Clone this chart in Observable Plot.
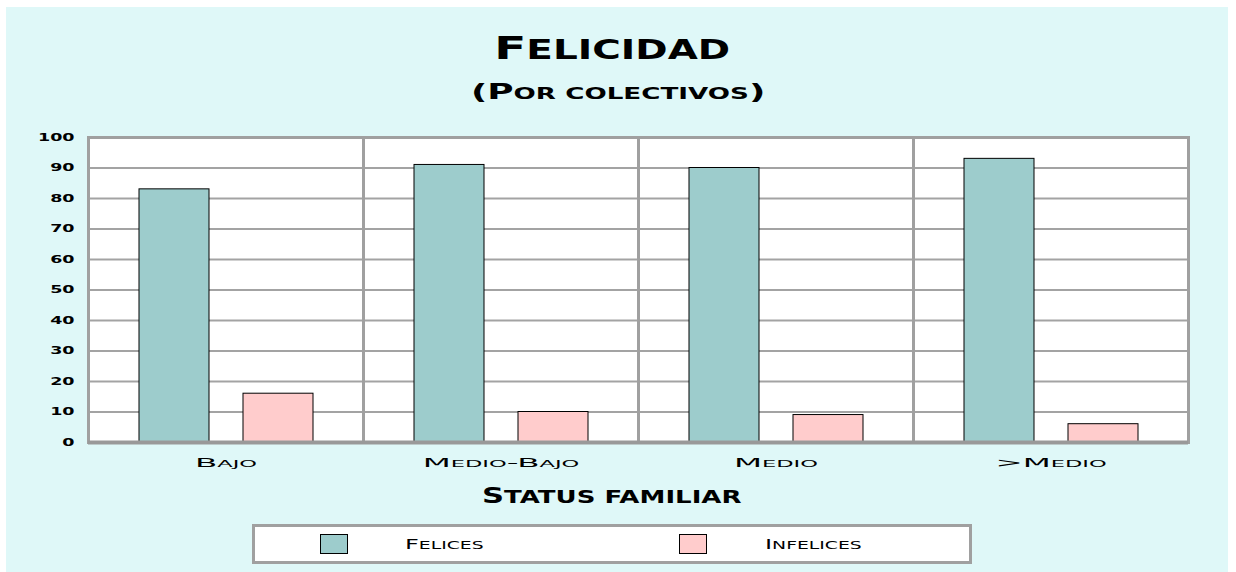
<!DOCTYPE html>
<html>
<head>
<meta charset="utf-8">
<script src="https://cdn.jsdelivr.net/npm/d3@7"></script>
<script src="https://cdn.jsdelivr.net/npm/@observablehq/plot@0.6"></script>
<style>
  html, body { margin: 0; padding: 0; background: #ffffff; }
  #page { position: relative; width: 1236px; height: 572px; overflow: hidden; background: #ffffff; }
  #bg { position: absolute; left: 6px; top: 7px; width: 1222px; height: 565px; background: #dff8f8; }
  .hold { position: absolute; left: 0; width: 1236px; text-align: center; }
  .sc { font-family: "DejaVu Sans", sans-serif; color: #000; display: inline-block; white-space: nowrap; line-height: normal; }
  #title { font-size: 31.5px; font-weight: bold; }
  #subtitle { font-size: 20.5px; font-weight: bold; }
  #xlabel { font-size: 21.4px; font-weight: bold; }
  #chart { position: absolute; left: 0; top: 120px; }
  #legend { position: absolute; left: 252px; top: 524px; width: 714px; height: 34px; background: #fff; border: 3px solid #a0a0a0; }
  .sw { position: absolute; width: 26px; height: 18px; border: 1px solid #000; top: 7px; }
  .lt { position: absolute; top: 9px; font-size: 14px; transform-origin: 0 50%; }
  svg [aria-label^="y-axis"] text { font-weight: bold; font-size: 10px; font-variant: normal; }
  svg [aria-label^="fx-axis"] text { font-size: 13px; }
</style>
</head>
<body>
<div id="page">
  <div id="bg"></div>
  <div class="hold" style="top:30px;left:-6px;"><div id="title" class="sc" data-text="Felicidad" data-small="0.83" data-stretch="1.49"></div></div>
  <div class="hold" style="top:80px;"><div id="subtitle" class="sc" data-text="(Por colectivos)" data-small="0.73" data-stretch="1.75"></div></div>
  <div id="chart"></div>
  <div class="hold" style="top:483px;left:-6px;"><div id="xlabel" class="sc" data-text="Status familiar" data-small="0.85" data-stretch="1.43"></div></div>
  <div id="legend"></div>
</div>
<script>
const categories = ["Bajo", "Medio-Bajo", "Medio", ">Medio"];
const series = ["Felices", "Infelices"];
const felices = [83, 91, 90, 93];
const infelices = [16, 10, 9, 6];
const yTicks = [0, 10, 20, 30, 40, 50, 60, 70, 80, 90, 100];
const colors = ["#9dcccc", "#ffcccc"];

const data = [];
categories.forEach((c, i) => {
  data.push({cat: c, series: series[0], value: felices[i]});
  data.push({cat: c, series: series[1], value: infelices[i]});
});

// build small-caps text from spans: lowercase letters become smaller capitals
function fillSmallCaps(el, text, ratio) {
  el.textContent = "";
  for (const ch of text) {
    const s = document.createElement("span");
    const isLower = ch !== ch.toUpperCase();
    s.textContent = ch.toUpperCase();
    if (isLower || ch === " ") s.style.fontSize = (ratio * 100) + "%";
    el.appendChild(s);
  }
}

document.querySelectorAll("[data-text]").forEach(el => {
  fillSmallCaps(el, el.dataset.text, +el.dataset.small);
  el.style.transform = `scaleX(${el.dataset.stretch})`;
});

const chart = Plot.plot({
  width: 1236,
  height: 400,
  marginLeft: 88,
  marginRight: 48,
  marginTop: 17,
  marginBottom: 78,
  style: {background: "transparent", fontFamily: "DejaVu Sans, sans-serif", fontVariant: "small-caps", fontSize: "13px", color: "#000"},
  fx: {domain: categories, padding: 0, label: null, tickSize: 0, tickPadding: 15, axis: "bottom"},
  x: {domain: series, axis: null, paddingInner: 0.327, paddingOuter: 0.4856},
  y: {domain: [0, 100], ticks: yTicks, tickSize: 0, tickPadding: 14, label: null, tickFormat: d => String(d)},
  color: {domain: series, range: colors},
  marks: [
    Plot.frame({fill: "#ffffff", stroke: "none"}),
    Plot.ruleY(yTicks, {stroke: "#a3a3a3", strokeWidth: 2, strokeOpacity: 1}),
    Plot.barY(data, {fx: "cat", x: "series", y: "value", fill: "series", stroke: "#000", strokeWidth: 1}),
    Plot.frame({stroke: "#a0a0a0", strokeWidth: 3}),
    Plot.ruleY([0], {stroke: "#999", strokeWidth: 4})
  ]
});
document.getElementById("chart").appendChild(chart);

function stretchSvgText(selector, factor) {
  chart.querySelectorAll(selector).forEach(t => {
    const w = t.getComputedTextLength();
    if (w > 0) {
      t.setAttribute("textLength", w * factor);
      t.setAttribute("lengthAdjust", "spacingAndGlyphs");
    }
  });
}
stretchSvgText('[aria-label^="y-axis"] text', 1.75);
stretchSvgText('[aria-label^="fx-axis"] text', 2.5);

const legend = document.getElementById("legend");
const swX = [65, 424];
const txX = [150, 510];
series.forEach((s, i) => {
  const sw = document.createElement("div");
  sw.className = "sw";
  sw.style.left = swX[i] + "px";
  sw.style.background = colors[i];
  legend.appendChild(sw);
  const t = document.createElement("div");
  t.className = "sc lt";
  t.style.left = txX[i] + "px";
  fillSmallCaps(t, s, 0.78);
  t.style.transform = "scaleX(1.72)";
  legend.appendChild(t);
});
</script>
</body>
</html>
